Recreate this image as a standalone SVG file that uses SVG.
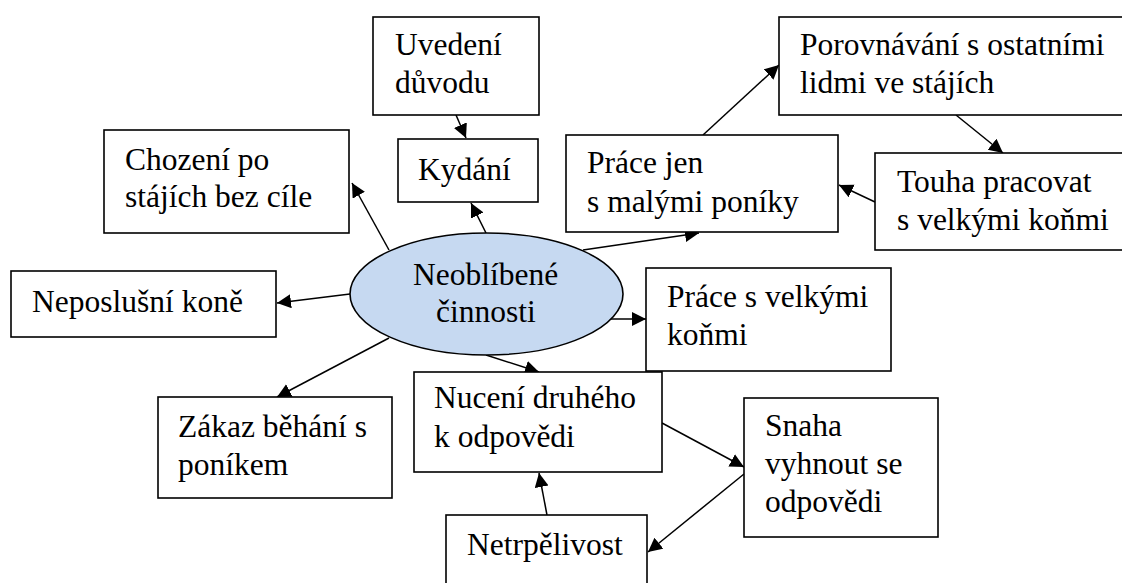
<svg xmlns="http://www.w3.org/2000/svg" width="1122" height="583" viewBox="0 0 1122 583">
  <style>
    .box { fill: #ffffff; stroke: #000000; stroke-width: 1.6; }
    .hub { fill: #c6d9f1; stroke: #000000; stroke-width: 1.6; }
    .edge { fill: none; stroke: #000000; stroke-width: 1.5; marker-end: url(#arrow); }
  </style>
  <defs>
    <marker id="arrow" markerUnits="userSpaceOnUse" markerWidth="16" markerHeight="16" refX="14" refY="7" orient="auto">
      <path d="M0,0 L14,7 L0,14 z" fill="#000000"/>
    </marker>
  </defs>
  <rect x="0" y="0" width="1122" height="583" fill="#ffffff"/>

  <!-- connectors -->
  <g id="connectors">
    <line class="edge" x1="456" y1="115" x2="466" y2="138"/>
    <line class="edge" x1="486" y1="233" x2="471" y2="203"/>
    <line class="edge" x1="389" y1="250" x2="352" y2="183"/>
    <line class="edge" x1="350" y1="294" x2="277" y2="303"/>
    <line class="edge" x1="389" y1="338" x2="277" y2="397"/>
    <line class="edge" x1="486" y1="355" x2="539" y2="372"/>
    <line class="edge" x1="597" y1="319" x2="646" y2="319"/>
    <line class="edge" x1="583" y1="250" x2="699" y2="233"/>
    <line class="edge" x1="703" y1="135" x2="779" y2="65"/>
    <line class="edge" x1="956" y1="115" x2="1003" y2="153"/>
    <line class="edge" x1="875" y1="202" x2="839" y2="185"/>
    <line class="edge" x1="662" y1="423" x2="744" y2="467"/>
    <line class="edge" x1="744" y1="474" x2="648" y2="552"/>
    <line class="edge" x1="547" y1="515" x2="539" y2="473"/>
  </g>

  <!-- all labels share one serif face -->
  <g font-family="Liberation Serif, serif" font-size="31.5" fill="#000000">
    <g id="uvedeni">
      <rect class="box" x="373" y="17" width="166" height="98"/>
      <text x="395" y="55">Uvedení</text>
      <text x="395" y="93">důvodu</text>
    </g>
    <g id="kydani">
      <rect class="box" x="398" y="139" width="140" height="63"/>
      <text x="418" y="180">Kydání</text>
    </g>
    <g id="chozeni">
      <rect class="box" x="104" y="130" width="245" height="103"/>
      <text x="125" y="170">Chození po</text>
      <text x="125" y="207">stájích bez cíle</text>
    </g>
    <g id="neposlusni">
      <rect class="box" x="11" y="271" width="265" height="66"/>
      <text x="32" y="312">Neposlušní koně</text>
    </g>
    <g id="neoblibene">
      <ellipse class="hub" cx="486.5" cy="294" rx="136.5" ry="61"/>
      <text x="413" y="285">Neoblíbené</text>
      <text x="436" y="322">činnosti</text>
    </g>
    <g id="porovnavani">
      <rect class="box" x="779" y="17" width="350" height="98"/>
      <text x="800" y="55">Porovnávání s ostatními</text>
      <text x="800" y="93">lidmi ve stájích</text>
    </g>
    <g id="prace-jen">
      <rect class="box" x="566" y="135" width="272" height="97"/>
      <text x="587" y="173">Práce jen</text>
      <text x="587" y="212">s malými poníky</text>
    </g>
    <g id="touha">
      <rect class="box" x="875" y="153" width="255" height="97"/>
      <text x="897" y="192">Touha pracovat</text>
      <text x="897" y="230">s velkými koňmi</text>
    </g>
    <g id="prace-velkymi">
      <rect class="box" x="646" y="268" width="245" height="103"/>
      <text x="667" y="307">Práce s velkými</text>
      <text x="667" y="345">koňmi</text>
    </g>
    <g id="nuceni">
      <rect class="box" x="414" y="372" width="248" height="100"/>
      <text x="434" y="408">Nucení druhého</text>
      <text x="434" y="447">k odpovědi</text>
    </g>
    <g id="snaha">
      <rect class="box" x="744" y="398" width="194" height="139"/>
      <text x="765" y="436">Snaha</text>
      <text x="765" y="474">vyhnout se</text>
      <text x="765" y="512">odpovědi</text>
    </g>
    <g id="netrpelivost">
      <rect class="box" x="446" y="515" width="201" height="80"/>
      <text x="467" y="555">Netrpělivost</text>
    </g>
    <g id="zakaz">
      <rect class="box" x="158" y="397" width="234" height="101"/>
      <text x="178" y="437">Zákaz běhání s</text>
      <text x="178" y="475">poníkem</text>
    </g>
  </g>
</svg>
